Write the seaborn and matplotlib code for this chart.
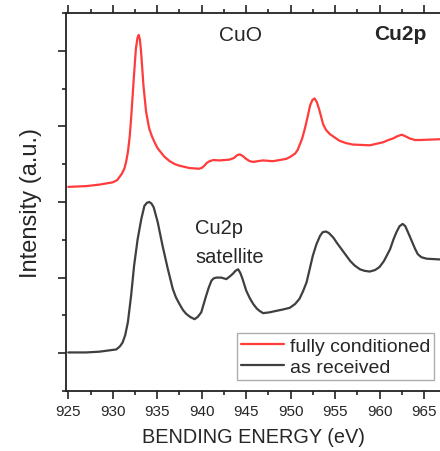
import pandas as pd
import seaborn as sns
import matplotlib.pyplot as plt
from matplotlib.ticker import MultipleLocator

# fully conditioned sample (red)
energy_fc = [925.0, 927.0, 928.5, 930.0, 930.5, 930.75, 931.0, 931.3, 931.5, 931.7,
             931.9, 932.06, 932.36, 932.6, 932.78, 932.92, 933.05, 933.19, 933.45, 933.75,
             934.1, 934.4, 934.7, 935.0, 935.25, 935.8, 936.4, 937.0, 937.5, 938.6,
             939.65, 940.0, 940.3, 940.6, 940.9, 941.3, 942.0, 943.1, 943.6, 944.0,
             944.27, 944.6, 945.0, 945.4, 945.8, 946.3, 946.9, 948.0, 949.5, 950.0,
             950.5, 950.8, 951.0, 951.3, 951.6, 951.9, 952.2, 952.45, 952.7, 952.95,
             953.2, 953.45, 953.65, 954.0, 954.4, 955.0, 955.5, 956.2, 957.0, 958.9,
             960.4, 961.0, 961.5, 962.0, 962.5, 962.9, 963.4, 964.0, 964.5, 966.8]
int_fc = [2.20, 2.21, 2.23, 2.26, 2.29, 2.33, 2.37, 2.44, 2.53, 2.66,
          2.86, 3.10, 3.63, 4.03, 4.17, 4.21, 4.15, 3.98, 3.54, 3.19,
          2.97, 2.87, 2.79, 2.72, 2.68, 2.60, 2.54, 2.50, 2.48, 2.45,
          2.44, 2.45, 2.48, 2.52, 2.54, 2.555, 2.55, 2.56, 2.58, 2.62,
          2.63, 2.61, 2.57, 2.54, 2.53, 2.54, 2.55, 2.54, 2.57, 2.60,
          2.64, 2.69, 2.75, 2.84, 2.97, 3.12, 3.28, 3.35, 3.37, 3.32,
          3.23, 3.12, 3.03, 2.95, 2.90, 2.85, 2.81, 2.78, 2.76, 2.75,
          2.79, 2.82, 2.84, 2.87, 2.89, 2.87, 2.84, 2.82, 2.82, 2.83]

# as received sample (dark grey)
energy_ar = [925.0, 927.0, 928.5, 930.4, 930.8, 931.1, 931.4, 931.7, 932.06, 932.4,
             932.8, 933.2, 933.56, 933.85, 934.1, 934.35, 934.6, 935.06, 935.6, 936.2,
             936.75, 937.1, 937.5, 937.9, 938.26, 938.7, 939.2, 939.55, 939.95, 940.2,
             940.5, 940.8, 941.1, 941.35, 941.64, 942.2, 942.77, 943.1, 943.5, 943.8,
             944.1, 944.35, 944.6, 945.0, 945.4, 945.8, 946.2, 946.5, 946.9, 947.6,
             948.4, 949.2, 949.9, 950.5, 951.0, 951.4, 951.8, 952.1, 952.5, 952.9,
             953.3, 953.6, 953.96, 954.3, 954.8, 955.2, 955.7, 956.2, 956.7, 957.2,
             957.8, 958.3, 958.9, 959.5, 960.0, 960.5, 960.9, 961.2, 961.55, 961.9,
             962.25, 962.6, 962.9, 963.2, 963.6, 964.0, 964.3, 964.7, 965.3, 966.8]
int_ar = [0.01, 0.01, 0.02, 0.05, 0.09, 0.14, 0.24, 0.41, 0.76, 1.16,
          1.51, 1.77, 1.95, 1.99, 2.00, 1.98, 1.93, 1.73, 1.42, 1.11,
          0.85, 0.74, 0.65, 0.57, 0.52, 0.48, 0.45, 0.48, 0.54, 0.64,
          0.76, 0.87, 0.96, 0.99, 1.00, 1.00, 0.98, 1.01, 1.05, 1.09,
          1.11, 1.06, 0.98, 0.83, 0.73, 0.65, 0.59, 0.56, 0.53, 0.54,
          0.56, 0.58, 0.60, 0.65, 0.72, 0.82, 0.94, 1.09, 1.29, 1.44,
          1.55, 1.60, 1.61, 1.59, 1.53, 1.46, 1.38, 1.30, 1.22, 1.16,
          1.11, 1.09, 1.08, 1.10, 1.14, 1.22, 1.31, 1.38, 1.50, 1.60,
          1.68, 1.71, 1.68, 1.60, 1.49, 1.38, 1.31, 1.27, 1.25, 1.24]

df_fc = pd.DataFrame({'energy': energy_fc, 'intensity': int_fc})
df_ar = pd.DataFrame({'energy': energy_ar, 'intensity': int_ar})

sns.set_style('ticks')
plt.rcParams['font.family'] = ['Liberation Sans', 'DejaVu Sans']

fig = plt.figure(figsize=(4.4, 4.52), dpi=100)
ax = fig.add_axes([66 / 440, 60 / 452, 374 / 440, 378 / 452])

sns.lineplot(data=df_fc, x='energy', y='intensity', color='#ff3b3b', lw=1.6,
             sort=False, label='fully conditioned', ax=ax)
sns.lineplot(data=df_ar, x='energy', y='intensity', color='#3f3f3f', lw=1.6,
             sort=False, label='as received', ax=ax)

ax.set_xlim(924.74, 966.8)
ax.set_ylim(-0.5, 4.5)
ax.xaxis.set_major_locator(MultipleLocator(5))
ax.xaxis.set_minor_locator(MultipleLocator(2.5))
ax.yaxis.set_major_locator(MultipleLocator(1))
ax.yaxis.set_minor_locator(MultipleLocator(0.5))
ax.set_yticklabels([])

for side in ['left', 'bottom', 'top']:
    ax.spines[side].set_linewidth(1.3)
    ax.spines[side].set_color('#222222')
ax.spines['right'].set_visible(False)
ax.tick_params(which='both', direction='out', top=True, left=True, bottom=True,
               right=False, color='#222222', width=1.2)
ax.tick_params(which='major', length=6, labelsize=11)
ax.tick_params(which='minor', length=3)

ax.set_xlabel('BENDING ENERGY (eV)', fontsize=14.3, labelpad=6)
ax.set_ylabel('Intensity (a.u.)', fontsize=17, labelpad=8)

ax.text(944.4, 4.14, 'CuO', fontsize=15, ha='center', va='baseline')
ax.text(962.3, 4.16, 'Cu2p', fontsize=15, fontweight='bold', ha='center', va='baseline')
# baseline of the last line
ax.text(939.3, 1.2, 'Cu2p\nsatellite', fontsize=14.5, ha='left', va='baseline',
        linespacing=1.7)

leg = ax.legend(loc='lower right', bbox_to_anchor=(0.984, 0.029), fontsize=14,
                frameon=True, fancybox=False, handlelength=2.2, handletextpad=0.3,
                labelspacing=0.2, borderpad=0.2, borderaxespad=0)
leg.get_frame().set_edgecolor('#999999')
leg.get_frame().set_linewidth(1.0)

fig.savefig('out.png', dpi=100)
